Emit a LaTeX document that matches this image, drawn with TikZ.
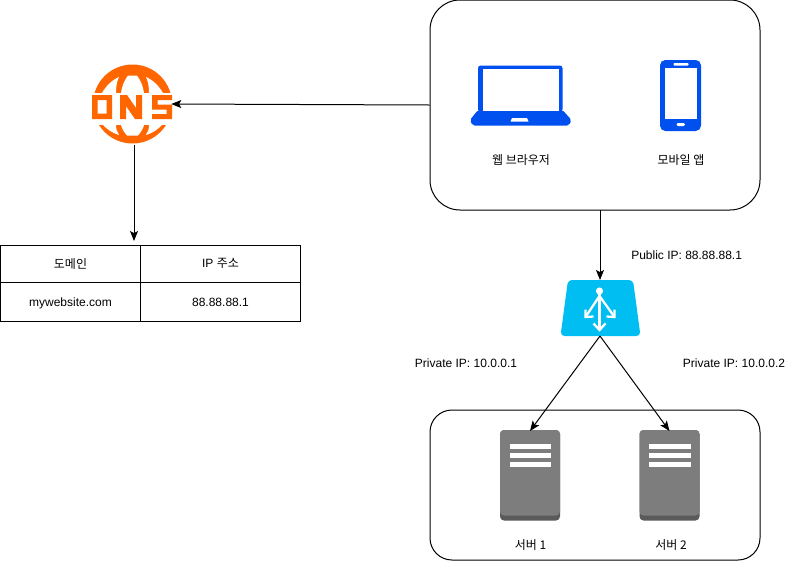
\documentclass[tikz,border=0pt]{standalone}
\usepackage{fontspec}
\setmainfont{Liberation Sans}
\newfontfamily\kr{Noto Sans CJK KR}
\usetikzlibrary{arrows.meta, positioning, shapes.geometric}

\definecolor{dnsorange}{HTML}{FF6600}
\definecolor{devblue}{HTML}{0050EF}
\definecolor{lbblue}{HTML}{00BEF2}
\definecolor{srvgray}{HTML}{7D7D7D}
\definecolor{srvdark}{HTML}{5A5A5A}

\tikzset{
    link/.style={draw=black, line width=0.75pt, -{Stealth[length=7.5pt,width=6pt,inset=1.6pt]}},
    groupbox/.style={draw=black, line width=0.75pt, fill=white, inner sep=0pt},
    cell/.style={draw=black, line width=0.75pt, inner sep=0pt, font=\fontsize{9}{11}\selectfont},
    label/.style={inner sep=0pt, font=\fontsize{9}{11}\selectfont},
    lbarrow/.style={draw=white, line width=1.7pt},
}

\begin{document}
\begin{tikzpicture}[x=0.75pt,y=-0.75pt]
    \useasboundingbox (0,0) rectangle (799,561);

    % Client group
    \node[groupbox, rounded corners=22.5pt, minimum width=247.5pt, minimum height=157.5pt] (client) at (595,105) {};
    % Server group
    \node[groupbox, rounded corners=16.5pt, minimum width=247.5pt, minimum height=112.5pt] (servers) at (595,485) {};

    % Laptop
    \fill[devblue, rounded corners=2pt] (478,112) -- (478,65.5) -- (562.5,65.5) -- (562.5,112) -- cycle;
    \fill[devblue, rounded corners=1.5pt] (478,110) -- (562.5,110) -- (571.5,120) -- (569,125.5) -- (472.5,125.5) -- (470,120) -- cycle;
    \fill[white] (482.5,68.5) rectangle (559,111);
    \fill[white] (512,118) -- (527,118) -- (528.5,121.5) -- (510.5,121.5) -- cycle;
    \node[label] (browser) at (521,160) {\kr 웹 브라우저};

    % Phone
    \fill[devblue, rounded corners=4pt] (660,60) rectangle (701,131);
    \fill[white] (664.5,67.5) rectangle (696.5,118.5);
    \fill[white, rounded corners=0.7pt] (673.5,63) rectangle (688.5,65.5);
    \fill[white, rounded corners=1pt] (676.5,123) rectangle (685,126);
    \node[label] (mobile) at (681,160) {\kr 모바일 앱};

    % DNS
    \node[circle, minimum size=58.5pt, inner sep=0pt] (dns) at (132,104) {};
    \fill[dnsorange] (132.5,104) circle (39.5);
    \begin{scope}
        \clip (132.5,104) circle (40.5);
        \fill[white] (90,93) rectangle (175,125);
    \end{scope}
    % globe cells above the band
    \fill[white] (102,93) -- (116,93) .. controls (116,86) and (117,81) .. (119,77) .. controls (112,80) and (106,86) .. (102,93) -- cycle;
    \fill[white] (121,93) -- (144,93) .. controls (143,86) and (141,81) .. (137,75.5) -- (128,75.5) .. controls (124,81) and (122,86) .. (121,93) -- cycle;
    \fill[white] (163,93) -- (149,93) .. controls (149,86) and (148,81) .. (146,77) .. controls (153,80) and (159,86) .. (163,93) -- cycle;
    % globe cells below the band
    \fill[white] (103,125) -- (116,125) .. controls (116,129) and (117,132) .. (119,135) .. controls (112,133) and (107,129) .. (103,125) -- cycle;
    \fill[white] (121,125) -- (144,125) .. controls (143,129) and (141,132) .. (138,135.5) -- (127,135.5) .. controls (124,132) and (122,129) .. (121,125) -- cycle;
    \fill[white] (162,125) -- (149,125) .. controls (149,129) and (148,132) .. (146,135) .. controls (153,133) and (158,129) .. (162,125) -- cycle;
    % letters
    \fill[dnsorange, even odd rule] (92,95) rectangle (112,119) (97.5,100) rectangle (106.5,113.5);
    \fill[dnsorange] (120,95) -- (127,95) -- (136,108) -- (136,95) -- (142,95) -- (142,119) -- (135,119) -- (126,106) -- (126,119) -- (120,119) -- cycle;
    \fill[dnsorange] (152,95) -- (172,95) -- (172,100) -- (157.5,100) -- (157.5,104.5) -- (172,104.5) -- (172,119) -- (152,119) -- (152,114) -- (166.5,114) -- (166.5,109.5) -- (152,109.5) -- cycle;
    \coordinate (dnsout) at (134,145);

    % Domain table
    \node[cell, minimum width=105pt, minimum height=27.75pt] (domainhead) at (70.5,263.5) {\kr 도메인};
    \node[cell, minimum width=120pt, minimum height=27.75pt] (iphead) at (220.5,263.5) {IP {\kr 주소}};
    \node[cell, text height=8.2pt, text depth=0pt, minimum width=105pt, minimum height=29.25pt] (domainval) at (70.5,301.5) {mywebsite.com};
    \node[cell, text height=8.2pt, text depth=0pt, minimum width=120pt, minimum height=29.25pt] (ipval) at (220.5,301.5) {88.88.88.1};
    \coordinate (tabletop) at (134,241);

    % Load balancer
    \fill[lbblue, rounded corners=3pt] (568,280) -- (633,280) -- (640.5,336) -- (560.5,336) -- cycle;
    \fill[white] (599.5,291) circle (3.6);
    \draw[lbarrow] (599.5,291) -- (599.5,330);
    \draw[lbarrow] (593.5,323.5) -- (599.5,330) -- (605.5,323.5);
    \draw[lbarrow] (599.5,296) -- (585.5,317);
    \draw[lbarrow] (585.5,309.5) -- (585.5,317) -- (593.5,316.5);
    \draw[lbarrow] (599.5,296) -- (614.5,317);
    \draw[lbarrow] (614.5,309.5) -- (614.5,317) -- (606.5,316.5);
    \coordinate (clientout) at (600,210);
    \coordinate (lbin) at (600,280);
    \coordinate (lbout) at (600,336);
    \node[label, anchor=west] (publicip) at (631,255.5) {Public IP: 88.88.88.1};
    \node[label] (privateone) at (466,363.5) {Private IP: 10.0.0.1};
    \node[label] (privatetwo) at (734,363.5) {Private IP: 10.0.0.2};

    % Servers
    \foreach \name/\xpos in {srvone/500, srvtwo/639.5} {
        \fill[srvdark, rounded corners=3pt] (\xpos,430) rectangle ++(60,90.5);
        \fill[srvgray, rounded corners=3pt] (\xpos,430) rectangle ++(60,85.5);
        \foreach \ybar in {443.5,452.5,461.5}
            \fill[white] (\xpos+9.5,\ybar) rectangle ++(41.5,5.5);
        \coordinate (\name) at (\xpos+30,431);
    }
    \node[label] (srvonetext) at (530.5,545) {\kr 서버 1};
    \node[label] (srvtwotext) at (671,545) {\kr 서버 2};

    % Connections
    \draw[link] (client.west) -- (dns.east);
    \draw[link] (dnsout) -- (tabletop);
    \draw[link] (clientout) -- (lbin);
    \draw[link] (lbout) -- (srvone);
    \draw[link] (lbout) -- (srvtwo);
\end{tikzpicture}
\end{document}
